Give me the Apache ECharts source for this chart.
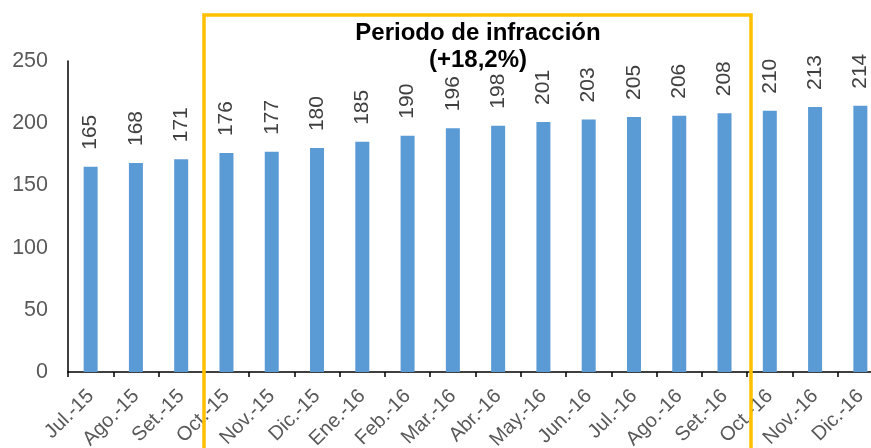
<!DOCTYPE html>
<html>
<head>
<meta charset="utf-8">
<script src="https://cdn.jsdelivr.net/npm/echarts@6/dist/echarts.min.js"></script>
<style>
  html, body { margin: 0; padding: 0; background: #fff; }
  #chart { width: 871px; height: 448px; }
</style>
</head>
<body>
<div id="chart"></div>
<script>
// meses
const months = ['Jul.-15', 'Ago.-15', 'Set.-15', 'Oct.-15', 'Nov.-15', 'Dic.-15',
  'Ene.-16', 'Feb.-16', 'Mar.-16', 'Abr.-16', 'May.-16', 'Jun.-16',
  'Jul.-16', 'Ago.-16', 'Set.-16', 'Oct.-16', 'Nov.-16', 'Dic.-16'];
const values = [165, 168, 171, 176, 177, 180, 185, 190, 196, 198, 201, 203, 205, 206, 208, 210, 213, 214];
const yTicks = [0, 50, 100, 150, 200, 250];
const boxTitle = ['Periodo de infracción', '(+18,2%)'];

const font = 'Liberation Sans, Arial, sans-serif';
const chart = echarts.init(document.getElementById('chart'));

chart.setOption({
  animation: false,
  textStyle: { fontFamily: font },
  // el eje no se encoge para que las etiquetas se corten abajo como en el original
  grid: { left: 68, top: 61, width: 815, height: 311, containLabel: false, outerBoundsMode: 'none' },
  xAxis: {
    type: 'category',
    data: months,
    axisLine: { lineStyle: { color: '#000', width: 1.5 } },
    axisTick: { show: true, length: 5, lineStyle: { color: '#000', width: 1.5 } },
    axisLabel: { rotate: 45, color: '#595959', fontSize: 20, margin: 21, interval: 0 }
  },
  yAxis: {
    type: 'value',
    min: yTicks[0],
    max: yTicks[yTicks.length - 1],
    interval: 50,
    splitLine: { show: false },
    axisLine: { show: true, lineStyle: { color: '#000', width: 1.5 } },
    axisTick: { show: false },
    axisLabel: { color: '#595959', fontSize: 21.5, margin: 20 }
  },
  series: [{
    type: 'bar',
    data: values,
    barWidth: 14,
    itemStyle: { color: '#5B9BD5' },
    label: {
      show: true,
      position: 'top',
      rotate: 90,
      align: 'left',
      verticalAlign: 'middle',
      distance: 17,
      color: '#404040',
      fontSize: 21
    }
  }],
  graphic: [
    {
      type: 'rect',
      shape: { x: 204, y: 15, width: 547, height: 460 },
      style: { fill: 'none', stroke: '#FFC000', lineWidth: 3.5 },
      z: 10
    },
    {
      type: 'text',
      x: 478, y: 47,
      style: {
        text: boxTitle.join('\n'),
        font: 'bold 24px ' + font,
        fill: '#000',
        align: 'center',
        verticalAlign: 'middle',
        lineHeight: 27
      },
      z: 11
    }
  ]
});
</script>
</body>
</html>
